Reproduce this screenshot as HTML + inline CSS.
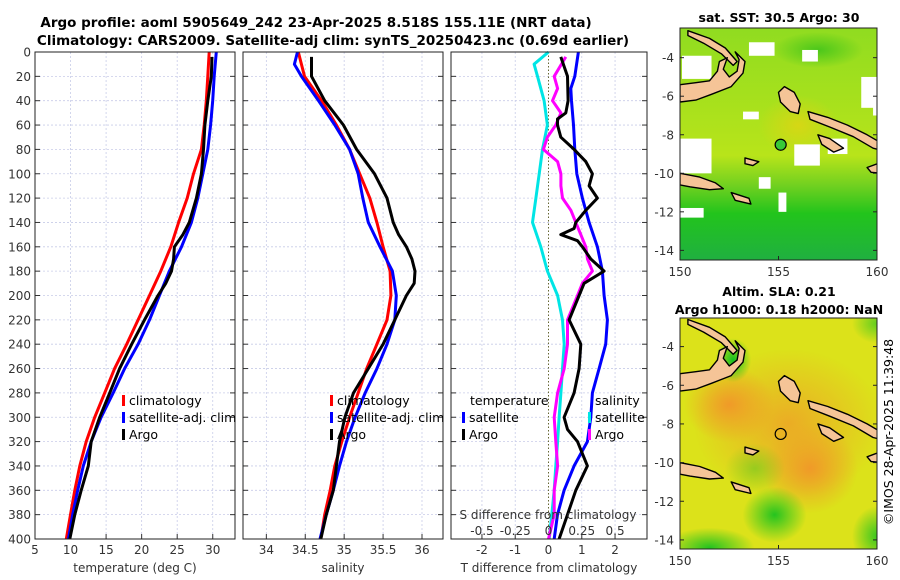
<!DOCTYPE html>
<html><head><meta charset="utf-8"><style>
html,body{margin:0;padding:0;background:#fff;}
svg{display:block;font-family:"DejaVu Sans","Liberation Sans",sans-serif;}
.tk{font-size:12px;fill:#333;}
.tt{font-size:13.5px;font-weight:bold;fill:#000;}
.lg{font-size:12.5px;fill:#000;}
</style></head><body>
<svg id="fig" width="900" height="580" viewBox="0 0 900 580" xmlns="http://www.w3.org/2000/svg">
<text class="tt" x="316" y="27" text-anchor="middle">Argo profile: aoml 5905649_242 23-Apr-2025 8.518S 155.11E (NRT data)</text>
<text class="tt" x="333" y="45" text-anchor="middle">Climatology: CARS2009. Satellite-adj clim: synTS_20250423.nc (0.69d earlier)</text>
<g id="maps"></g>
<g id="plots"></g>
<text class="lg" x="0" y="0" transform="translate(893,432) rotate(-90)" text-anchor="middle" fill="#222">©IMOS 28-Apr-2025 11:39:48</text>
</svg>
<script>
// ---------- data ----------
const depthStd = [0,20,40,60,80,100,120,140,160,180,200,220,240,260,280,300,320,340,360,380,400];
const tempClim = [29.5,29.3,29.1,28.8,28.4,27.3,26.4,25.2,24.1,22.7,21.1,19.5,17.9,16.2,14.8,13.4,12.2,11.3,10.6,10.0,9.4];
const tempSat  = [30.5,30.2,30.0,29.7,29.3,28.6,27.9,27.0,25.6,23.9,22.5,21.1,19.5,17.6,16.0,14.3,12.9,11.8,11.0,10.3,9.7];
const depthArgo = [4,20,40,60,80,100,120,140,150,160,170,180,190,200,220,240,260,280,300,320,340,360,380,400];
const tempArgo  = [29.9,29.8,29.3,28.9,28.7,28.4,27.7,26.7,25.8,24.6,24.5,24.2,23.4,22.3,20.4,18.6,16.9,15.5,14.1,12.9,12.5,11.5,10.6,9.9];
const salClim = [34.41,34.49,34.71,34.90,35.07,35.20,35.33,35.42,35.50,35.59,35.60,35.55,35.42,35.29,35.18,35.07,34.97,34.88,34.82,34.75,34.70];
const depthSatS = [0,10,20,40,60,80,100,120,140,160,180,200,220,240,260,280,300,320,340,360,380,400];
const salSat  = [34.40,34.36,34.45,34.67,34.88,35.07,35.18,35.24,35.31,35.46,35.62,35.67,35.65,35.55,35.42,35.27,35.14,35.03,34.94,34.86,34.77,34.69];
const salArgo = [34.58,34.58,34.75,34.99,35.16,35.39,35.55,35.63,35.70,35.80,35.87,35.91,35.90,35.80,35.65,35.50,35.31,35.12,35.01,34.94,34.90,34.86,34.77,34.70];
const depthDiffSat = [0,20,30,40,60,80,100,120,140,160,180,200,220,240,260,280,300,320,340,360,380,400];
const tDiffSat = [0.9,0.79,0.67,0.69,0.75,0.79,0.85,1.02,1.22,1.47,1.62,1.67,1.77,1.72,1.52,1.32,1.27,1.17,0.77,0.47,0.27,0.17];
const depthDiffArgo = [4,20,40,50,55,60,70,80,90,100,110,120,130,140,145,150,155,160,170,180,190,200,210,220,240,260,280,300,310,320,340,360,380,400];
const tDiffArgo = [0.37,0.57,0.59,0.52,0.27,0.27,0.37,0.77,1.12,1.32,1.22,1.47,1.12,0.82,0.77,0.37,0.87,1.02,1.27,1.67,1.07,0.92,0.77,0.62,0.97,0.92,0.77,0.47,0.57,0.87,1.17,0.82,0.57,0.32];
const depthSDiffSat = [0,10,20,40,60,80,100,120,140,160,180,200,220,240,260,280,300,320,340,360,380,400];
const sDiffSat = [0,-0.108,-0.083,-0.033,-0.008,-0.045,-0.07,-0.095,-0.12,-0.058,-0.008,0.068,0.105,0.118,0.105,0.093,0.08,0.068,0.055,0.043,0.025,0.005];
const depthSDiffArgo = [4,20,30,40,50,60,70,80,90,100,110,120,130,140,160,170,180,190,200,220,240,260,280,300,320,340,360,380,400];
const sDiffArgo = [0.13,0.043,0.068,0.03,0.093,0.055,-0.008,-0.038,0.068,0.093,0.093,0.105,0.168,0.205,0.28,0.293,0.33,0.255,0.218,0.143,0.143,0.118,0.068,0.043,0.055,0.068,0.043,0.043,0];
const depthTicks = [0,20,40,60,80,100,120,140,160,180,200,220,240,260,280,300,320,340,360,380,400];
const tempTicks = [5,10,15,20,25,30];
const salTicks = [34,34.5,35,35.5,36];
const tDiffTicks = [-2,-1,0,1,2];
const sDiffTickLabels = ["-0.5","-0.25","0","0.25","0.5"];
const sDiffTicks = [-0.5,-0.25,0,0.25,0.5];

// ---------- helpers ----------
const NS = "http://www.w3.org/2000/svg";
function mk(tag, attrs, parent){ const e=document.createElementNS(NS,tag); for(const k in attrs) e.setAttribute(k,attrs[k]); if(parent) parent.appendChild(e); return e; }
const Y0=52, Y1=539;
function yScale(d){ return Y0 + (d/400)*(Y1-Y0); }
function linScale(d0,d1,r0,r1){ return v => r0 + (v-d0)/(d1-d0)*(r1-r0); }

const plots = document.getElementById('plots');
const panels = [
  {name:'temperature-panel', x0:35, x1:235, d0:5, d1:33.13, ticks:tempTicks, labels:tempTicks.map(String), title:'temperature (deg C)', ylab:true},
  {name:'salinity-panel', x0:243, x1:443, d0:33.70, d1:36.27, ticks:salTicks, labels:salTicks.map(String), title:'salinity', ylab:false},
  {name:'difference-panel', x0:451, x1:647, d0:-2.93, d1:2.96, ticks:tDiffTicks, labels:tDiffTicks.map(String), title:'T difference from climatology', ylab:false}
];
panels.forEach(p => { p.x = linScale(p.d0,p.d1,p.x0,p.x1); });

function drawLine(g, sx, xs, ds, color, name, w){
  const pts = xs.map((v,i)=> sx(v).toFixed(1)+','+yScale(ds[i]).toFixed(1)).join(' ');
  const pl = mk('polyline',{points:pts,fill:'none',stroke:color,'stroke-width':w||3,'stroke-linejoin':'round'},g);
  
  
}

panels.forEach((p,pi) => {
  const g = mk('g',{},plots);
  
  
  depthTicks.forEach(d => {
    const y=yScale(d);
    const gl = mk('line',{x1:p.x0,x2:p.x1,y1:y,y2:y,stroke:'#c8cce8','stroke-width':0.8,'stroke-dasharray':'2,2'},g);
    
    
    mk('line',{x1:p.x0,x2:p.x0+5,y1:y,y2:y,stroke:'#333','stroke-width':1},g);
    mk('line',{x1:p.x1-5,x2:p.x1,y1:y,y2:y,stroke:'#333','stroke-width':1},g);
    if(p.ylab){
      const t = mk('text',{x:p.x0-4,y:y+4.5,'text-anchor':'end',class:'tk'},g);
      t.textContent = d;
      
      
    }
  });
  p.ticks.forEach((v,i) => {
    const x=p.x(v);
    const zero = (pi===2 && v===0);
    const gl = mk('line',{x1:x,x2:x,y1:Y0,y2:Y1,stroke:zero?'#666633':'#c8cce8','stroke-width':zero?1:0.8,'stroke-dasharray':zero?'1.5,2':'2,2'},g);
    
    
    mk('line',{x1:x,x2:x,y1:Y1,y2:Y1-5,stroke:'#333','stroke-width':1},g);
    const t = mk('text',{x:x,y:554,'text-anchor':'middle',class:'tk'},g);
    t.textContent = p.labels[i];
    
    
  });
  const at = mk('text',{x:(p.x0+p.x1)/2,y:572,'text-anchor':'middle',class:'tk'},g);
  at.textContent = p.title;
  
  
  p.g = g;
});

drawLine(panels[0].g, panels[0].x, tempClim, depthStd, '#ff0000', 'temp-climatology-line');
drawLine(panels[0].g, panels[0].x, tempSat, depthStd, '#0000ff', 'temp-satellite-line');
drawLine(panels[0].g, panels[0].x, tempArgo, depthArgo, '#000000', 'temp-argo-line');
drawLine(panels[1].g, panels[1].x, salClim, depthStd, '#ff0000', 'sal-climatology-line');
drawLine(panels[1].g, panels[1].x, salSat, depthSatS, '#0000ff', 'sal-satellite-line');
drawLine(panels[1].g, panels[1].x, salArgo, depthArgo, '#000000', 'sal-argo-line');
const sx3 = panels[2].x;
const sxS = v => sx3(v*4);
drawLine(panels[2].g, sxS, sDiffSat, depthSDiffSat, '#00e5e5', 'sdiff-satellite-line');
drawLine(panels[2].g, sx3, tDiffSat, depthDiffSat, '#0000ff', 'tdiff-satellite-line');
drawLine(panels[2].g, sxS, sDiffArgo, depthSDiffArgo, '#ff00ff', 'sdiff-argo-line');
drawLine(panels[2].g, sx3, tDiffArgo, depthDiffArgo, '#000000', 'tdiff-argo-line');

const sLab = mk('text',{x:548,y:519,'text-anchor':'middle',class:'tk'},panels[2].g);
sLab.textContent = 'S difference from climatology';


sDiffTicks.forEach((v,i)=>{
  const t = mk('text',{x:sxS(v),y:535,'text-anchor':'middle',class:'tk'},panels[2].g);
  t.textContent = sDiffTickLabels[i];
  
  
});

panels.forEach(p=>{
  const r = mk('rect',{x:p.x0,y:Y0,width:p.x1-p.x0,height:Y1-Y0,fill:'none',stroke:'#222','stroke-width':1},p.g);
  
  
});

function legend(g, x, y, color, label, name){
  const lg = mk('g',{},g);
  
  
  if(color) mk('rect',{x:x,y:y-10,width:3,height:11,fill:color},lg);
  const t = mk('text',{x:x+7,y:y,class:'lg'},lg);
  t.textContent = label;
}
legend(panels[0].g,122,405,'#ff0000','climatology','legend-climatology');
legend(panels[0].g,122,422,'#0000ff','satellite-adj. clim','legend-satellite-adj');
legend(panels[0].g,122,439,'#000000','Argo','legend-argo');
legend(panels[1].g,330,405,'#ff0000','climatology','legend-climatology');
legend(panels[1].g,330,422,'#0000ff','satellite-adj. clim','legend-satellite-adj');
legend(panels[1].g,330,439,'#000000','Argo','legend-argo');
legend(panels[2].g,463,405,null,'temperature','legend-temperature-header');
legend(panels[2].g,462,422,'#0000ff','satellite','legend-t-satellite');
legend(panels[2].g,462,439,'#000000','Argo','legend-t-argo');
legend(panels[2].g,588,405,null,'salinity','legend-salinity-header');
legend(panels[2].g,588,422,'#00e5e5','satellite','legend-s-satellite');
legend(panels[2].g,588,439,'#ff00ff','Argo','legend-s-argo');

// ---------- maps ----------
const maps = document.getElementById('maps');
const mapDefs = [
  {name:'sst-map', x0:680, x1:877, yTop:28, yBot:260, latTop:-2.46, latBot:-14.5, title:['sat. SST: 30.5 Argo: 30'], ty:[22]},
  {name:'sla-map', x0:680, x1:877, yTop:318, yBot:549, latTop:-2.52, latBot:-14.47, title:['Altim. SLA: 0.21','Argo h1000: 0.18 h2000: NaN'], ty:[296,314]}
];
const land = [
  [[150.4,-2.6],[151.5,-3.0],[152.3,-3.5],[152.9,-4.2],[152.7,-4.4],[152.1,-3.8],[151.2,-3.25],[150.4,-2.85]],
  [[150,-5.4],[150.8,-5.3],[151.5,-5.2],[151.9,-4.7],[152.0,-4.2],[152.4,-4.0],[152.2,-4.6],[152.5,-5.0],[152.9,-4.7],[153.0,-4.1],[152.8,-3.7],[153.3,-4.2],[153.2,-4.8],[152.6,-5.5],[151.6,-5.9],[150.8,-6.2],[150,-6.3]],
  [[155.3,-5.5],[155.8,-5.8],[156.1,-6.4],[156.0,-6.9],[155.6,-6.8],[155.1,-6.3],[155.0,-5.8]],
  [[156.5,-6.8],[157.5,-7.1],[158.5,-7.5],[159.5,-8.0],[160,-8.3],[160.2,-8.8],[159.8,-8.7],[158.8,-8.1],[157.6,-7.6],[156.6,-7.2]],
  [[157.0,-8.0],[157.6,-8.2],[158.3,-8.7],[157.8,-8.9],[157.2,-8.5]],
  [[159.5,-9.7],[160.3,-9.4],[160.3,-10.0],[159.7,-9.95]],
  [[150,-10.0],[151,-10.2],[151.8,-10.5],[152.2,-10.8],[151.5,-10.85],[150.5,-10.7],[150,-10.6]],
  [[152.6,-11.0],[153.5,-11.3],[153.6,-11.6],[152.8,-11.4]],
  [[153.3,-9.2],[154.0,-9.4],[153.7,-9.6],[153.3,-9.5]]
];
mapDefs.forEach((m,mi)=>{
  const g = mk('g',{},maps);
  
  
  const lx = linScale(150,160,680,877);
  const ly = linScale(m.latTop,m.latBot,m.yTop,m.yBot);
  const defs = mk('defs',{},g);
  const clipId='clip'+mi;
  const cp = mk('clipPath',{id:clipId},defs);
  mk('rect',{x:m.x0,y:m.yTop,width:m.x1-m.x0,height:m.yBot-m.yTop},cp);
  function rg(id,c){ const r=mk('radialGradient',{id:id},defs); mk('stop',{offset:'0%','stop-color':c,'stop-opacity':1},r); mk('stop',{offset:'100%','stop-color':c,'stop-opacity':0},r); }
  const body = mk('g',{'clip-path':'url(#'+clipId+')'},g);
  if(mi===0){
    rg('g0','#18b818'); rg('y0','#f0d010');
    const lg = mk('linearGradient',{id:'sstbg',x1:0,y1:0,x2:0,y2:1},defs);
    mk('stop',{offset:'0%','stop-color':'#90dc20'},lg);
    mk('stop',{offset:'55%','stop-color':'#b8e41a'},lg);
    mk('stop',{offset:'68%','stop-color':'#70d020'},lg);
    mk('stop',{offset:'80%','stop-color':'#22c41c'},lg);
    mk('stop',{offset:'100%','stop-color':'#20b040'},lg);
    mk('rect',{x:m.x0,y:m.yTop,width:m.x1-m.x0,height:m.yBot-m.yTop,fill:'url(#sstbg)'},body);
    mk('ellipse',{cx:lx(156),cy:ly(-7.5),rx:40,ry:30,fill:'url(#y0)',opacity:0.6},body);
    mk('ellipse',{cx:lx(157),cy:ly(-3.6),rx:45,ry:18,fill:'url(#g0)',opacity:0.6},body);
    const whites=[[150.1,-3.9,1.5,1.2],[153.5,-3.2,1.3,0.7],[156.2,-3.6,0.8,0.6],[159.2,-5.0,1.0,1.6],[150.0,-8.2,1.6,1.8],[155.8,-8.5,1.3,1.1],[157.5,-8.2,1.0,0.8],[154.0,-10.2,0.6,0.6],[155,-11.0,0.4,1.0],[150,-11.8,1.2,0.5],[153.2,-6.8,0.8,0.4],[159.8,-6.2,0.5,0.8]];
    whites.forEach(w=>{ mk('rect',{x:lx(w[0]),y:ly(w[1]),width:w[2]*19.7,height:w[3]*19.3,fill:'#fff'},body); });
  } else {
    rg('o1','#f09a28'); rg('g1','#10c020');
    mk('rect',{x:m.x0,y:m.yTop,width:m.x1-m.x0,height:m.yBot-m.yTop,fill:'#dce21a'},body);
    mk('ellipse',{cx:lx(155.5),cy:ly(-8),rx:95,ry:75,fill:'url(#o1)',opacity:0.75},body);
    mk('ellipse',{cx:lx(152.5),cy:ly(-7),rx:45,ry:38,fill:'url(#o1)',opacity:1},body);
    mk('ellipse',{cx:lx(156.6),cy:ly(-10.3),rx:48,ry:45,fill:'url(#o1)',opacity:1},body);
    mk('ellipse',{cx:lx(154.8),cy:ly(-12.7),rx:32,ry:28,fill:'url(#g1)',opacity:0.9},body);
    mk('ellipse',{cx:lx(152.7),cy:ly(-4.7),rx:18,ry:22,fill:'url(#g1)',opacity:1},body);
    mk('ellipse',{cx:lx(151.5),cy:ly(-14.4),rx:45,ry:20,fill:'url(#g1)',opacity:0.9},body);
    mk('ellipse',{cx:lx(160),cy:ly(-13.8),rx:25,ry:30,fill:'url(#g1)',opacity:0.8},body);
    mk('ellipse',{cx:lx(160),cy:ly(-2.8),rx:25,ry:20,fill:'url(#g1)',opacity:0.6},body);
    mk('ellipse',{cx:lx(153.8),cy:ly(-10.3),rx:30,ry:25,fill:'url(#g1)',opacity:0.35},body);
  }
  land.forEach(poly=>{
    const pts = poly.map(p=>lx(p[0]).toFixed(1)+','+ly(p[1]).toFixed(1)).join(' ');
    const pg = mk('polygon',{points:pts,fill:'#f5c497',stroke:'#000','stroke-width':1.4,'stroke-linejoin':'round'},body);
    
    
  });
  const c = mk('circle',{cx:lx(155.11),cy:ly(-8.518),r:5.5,fill:mi===0?'#38c838':'none',stroke:'#000','stroke-width':1.2},g);
  
  
  const fr = mk('rect',{x:m.x0,y:m.yTop,width:m.x1-m.x0,height:m.yBot-m.yTop,fill:'none',stroke:'#222','stroke-width':1},g);
  
  
  [-4,-6,-8,-10,-12,-14].forEach(lat=>{
    const y=ly(lat);
    mk('line',{x1:m.x0,x2:m.x0+4,y1:y,y2:y,stroke:'#222'},g);
    mk('line',{x1:m.x1-4,x2:m.x1,y1:y,y2:y,stroke:'#222'},g);
    const t = mk('text',{x:m.x0-6,y:y+4.5,'text-anchor':'end',class:'tk'},g);
    t.textContent = lat;
    
    
  });
  [150,155,160].forEach(lon=>{
    const x=lx(lon);
    mk('line',{x1:x,x2:x,y1:m.yBot,y2:m.yBot-4,stroke:'#222'},g);
    const t = mk('text',{x:x,y:m.yBot+16,'text-anchor':'middle',class:'tk'},g);
    t.textContent = lon;
    
    
  });
  m.title.forEach((s,i)=>{
    const t = mk('text',{x:779,y:m.ty[i],'text-anchor':'middle',class:'tt'},g);
    t.setAttribute('style','font-size:12.5px');
    t.textContent = s;
    
    
  });
});
</script>
</body></html>
